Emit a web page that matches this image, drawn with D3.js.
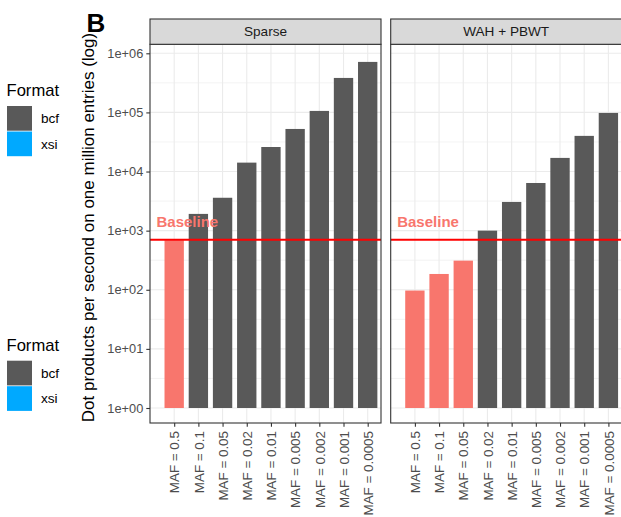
<!DOCTYPE html>
<html>
<head>
<meta charset="utf-8">
<script src="https://cdn.jsdelivr.net/npm/d3@7"></script>
<style>
  body { margin: 0; background: #fff; }
  text { font-family: "Liberation Sans", Arial, sans-serif; }
</style>
</head>
<body>
<script>
// data
let categories = ["MAF = 0.5", "MAF = 0.1", "MAF = 0.05", "MAF = 0.02", "MAF = 0.01",
                  "MAF = 0.005", "MAF = 0.002", "MAF = 0.001", "MAF = 0.0005"];
let panels = ["Sparse", "WAH + PBWT"];
let sparseValues = [690, 1920, 3600, 14150, 26000, 52500, 106000, 383000, 715000];
let wahValues = [97, 185, 311, 1000, 3060, 6400, 17000, 40100, 98000];
let baseline = 700;
let yTicks = [1, 10, 100, 1000, 10000, 100000, 1000000];
let legendKeys = ["bcf", "xsi"];
let legendColors = ["#595959", "#00A9FF"];

let width = 621;
let height = 517;
let panelTop = 19;
let stripH = 25.3;
let plotTop = panelTop + stripH;
let plotBottom = 423;
let panelW = 231;
let panelLefts = [150, 390.7];

let svg = d3.select("body").append("svg")
  .attr("width", width)
  .attr("height", height);

let y = d3.scaleLog()
  .domain([1, 1e6])
  .range([408, 53.3]);

let fmt = d => d3.format(".0e")(d).replace(/e([+-])(\d)$/, "e$10$2");

let valuesByPanel = [sparseValues, wahValues];

panels.forEach((name, pi) => {
  let left = panelLefts[pi];
  let right = left + panelW;
  let step = panelW / 9.55;
  let x = d3.scalePoint()
    .domain(categories)
    .range([left + step, left + step * 9]);
  let barW = step * 0.8;

  let g = svg.append("g");
  let clipId = "clip" + pi;
  svg.append("clipPath").attr("id", clipId)
    .append("rect")
    .attr("x", left).attr("y", plotTop)
    .attr("width", panelW).attr("height", plotBottom - plotTop);

  let inner = g.append("g").attr("clip-path", `url(#${clipId})`);

  // minor grid
  let minors = yTicks.slice(0, -1).map(t => t * Math.sqrt(10));
  minors.unshift(1 / Math.sqrt(10));
  minors.push(1e6 * Math.sqrt(10));
  inner.selectAll(".minor")
    .data(minors)
    .enter().append("line")
    .attr("x1", left).attr("x2", right)
    .attr("y1", d => y(d)).attr("y2", d => y(d))
    .attr("stroke", "#ebebeb").attr("stroke-width", 0.6);

  inner.selectAll(".major")
    .data(yTicks)
    .enter().append("line")
    .attr("x1", left).attr("x2", right)
    .attr("y1", d => y(d)).attr("y2", d => y(d))
    .attr("stroke", "#ebebeb").attr("stroke-width", 1.1);

  inner.selectAll(".vgrid")
    .data(categories)
    .enter().append("line")
    .attr("x1", d => x(d)).attr("x2", d => x(d))
    .attr("y1", plotTop).attr("y2", plotBottom)
    .attr("stroke", "#ebebeb").attr("stroke-width", 1.1);

  // bars
  let vals = valuesByPanel[pi];
  inner.selectAll(".bar")
    .data(categories)
    .enter().append("rect")
    .attr("x", d => x(d) - barW / 2)
    .attr("width", barW)
    .attr("y", (d, i) => y(vals[i]))
    .attr("height", (d, i) => y(1) - y(vals[i]))
    .attr("fill", (d, i) => vals[i] < baseline ? "#F8766D" : "#595959");

  // baseline
  inner.append("line")
    .attr("x1", left).attr("x2", right)
    .attr("y1", y(baseline)).attr("y2", y(baseline))
    .attr("stroke", "#FF0000").attr("stroke-width", 2);

  inner.append("text")
    .attr("x", left + 6.5)
    .attr("y", y(baseline) - 13)
    .attr("fill", "#F8766D")
    .style("font-size", "15px")
    .style("font-weight", "bold")
    .text("Baseline");

  // panel border
  g.append("rect")
    .attr("x", left).attr("y", plotTop)
    .attr("width", panelW).attr("height", plotBottom - plotTop)
    .attr("fill", "none").attr("stroke", "#333").attr("stroke-width", 1.1);

  // strip
  g.append("rect")
    .attr("x", left).attr("y", panelTop)
    .attr("width", panelW).attr("height", stripH)
    .attr("fill", "#d9d9d9").attr("stroke", "#333").attr("stroke-width", 1.1);
  g.append("text")
    .attr("x", left + panelW / 2)
    .attr("y", panelTop + stripH / 2)
    .attr("dy", "0.35em")
    .attr("text-anchor", "middle")
    .attr("fill", "#1a1a1a")
    .style("font-size", "13.6px")
    .text(name);

  // x axis
  let xAxis = g.append("g")
    .attr("transform", `translate(0,${plotBottom})`)
    .call(d3.axisBottom(x).tickSize(3.7).tickSizeOuter(0));
  xAxis.select(".domain").remove();
  xAxis.selectAll(".tick line").attr("stroke", "#333").attr("stroke-width", 1.1);
  xAxis.selectAll(".tick text")
    .attr("transform", "rotate(-90)")
    .attr("x", -8)
    .attr("y", 0)
    .attr("dy", "0.35em")
    .attr("text-anchor", "end")
    .attr("fill", "#4d4d4d")
    .style("font-family", "Liberation Sans, Arial, sans-serif")
    .style("font-size", "13.4px");
});

// y axis
let yAxis = svg.append("g")
  .attr("transform", `translate(${panelLefts[0]},0)`)
  .call(d3.axisLeft(y).tickValues(yTicks).tickFormat(fmt).tickSize(3.7).tickPadding(3));
yAxis.select(".domain").remove();
yAxis.selectAll(".tick line").attr("stroke", "#333").attr("stroke-width", 1.1);
yAxis.selectAll(".tick text")
  .attr("fill", "#4d4d4d")
  .style("font-family", "Liberation Sans, Arial, sans-serif")
  .style("font-size", "12.8px");

svg.append("text")
  .attr("transform", `translate(94,${(32 + plotBottom) / 2}) rotate(-90)`)
  .attr("text-anchor", "middle")
  .attr("fill", "#000")
  .style("font-size", "17px")
  .text("Dot products per second on one million entries (log)");

svg.append("text")
  .attr("x", 86.5)
  .attr("y", 32)
  .style("font-size", "26px")
  .style("font-weight", "bold")
  .text("B");

// legends (two copies)
let legendTops = [96, 350.7];
legendTops.forEach(top => {
  let lg = svg.append("g");
  lg.append("text")
    .attr("x", 6.5).attr("y", top)
    .style("font-size", "16.6px")
    .text("Format");
  lg.selectAll(".key")
    .data(legendKeys)
    .enter().append("rect")
    .attr("x", 7)
    .attr("y", (d, i) => top + 10 + i * 25.5)
    .attr("width", 25)
    .attr("height", 24.7)
    .attr("fill", (d, i) => legendColors[i]);
  lg.selectAll(".lab")
    .data(legendKeys)
    .enter().append("text")
    .attr("x", 41)
    .attr("y", (d, i) => top + 10 + 12.3 + i * 25.5)
    .attr("dy", "0.35em")
    .style("font-size", "13.6px")
    .text(d => d);
});
</script>
</body>
</html>
